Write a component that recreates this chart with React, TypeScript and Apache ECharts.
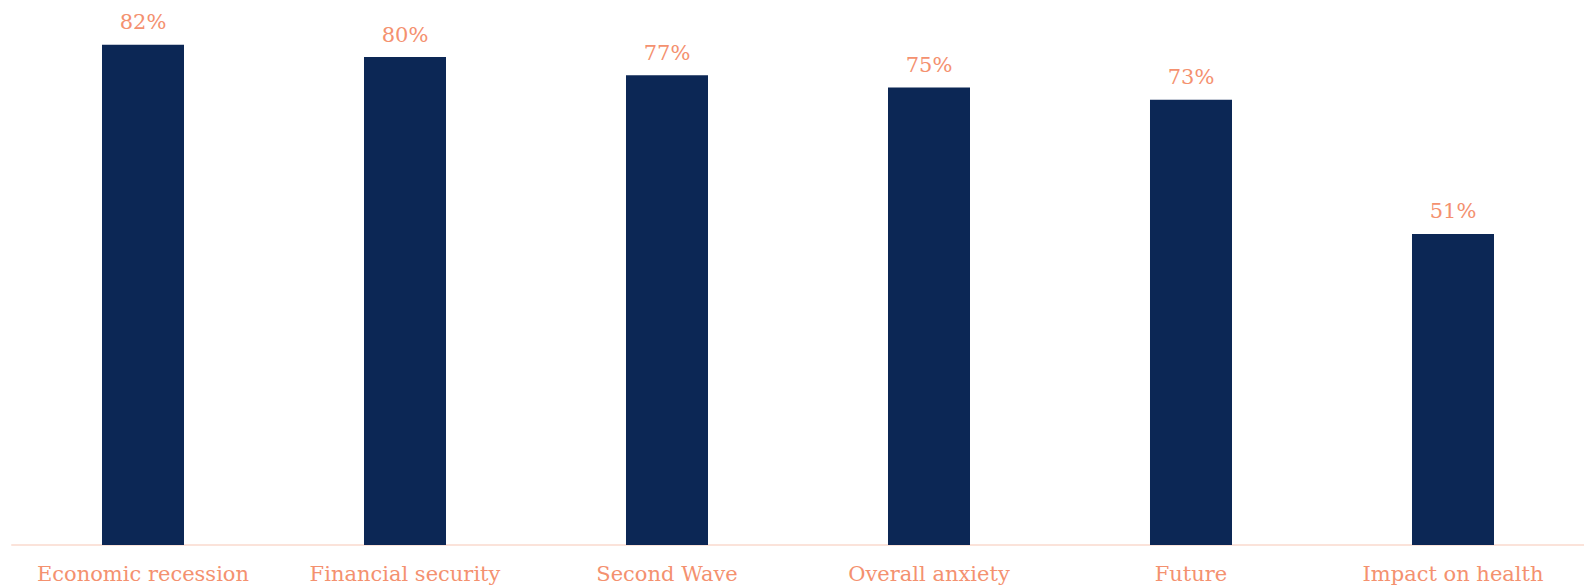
import React, { useEffect, useRef } from "react";
import * as echarts from "echarts";

const categories = ["Economic recession", "Financial security", "Second Wave", "Overall anxiety", "Future", "Impact on health"];
const values = [82, 80, 77, 75, 73, 51];

export default function App() {
  const ref = useRef<HTMLDivElement>(null);
  useEffect(() => {
    const chart = echarts.init(ref.current!, null, { renderer: "svg" });
    const font = "Georgia, 'DejaVu Serif', serif";
    chart.setOption({
      animation: false,
      grid: { left: 12, right: 0, top: 26.5, bottom: 42 },
      xAxis: {
        type: "category",
        data: categories,
        axisLine: { show: true, lineStyle: { color: "#fbe3da", width: 2 } },
        axisTick: { show: false },
        axisLabel: { color: "#f4916f", fontFamily: font, fontSize: 21, margin: 18, interval: 0 },
      },
      yAxis: {
        type: "value",
        min: 0,
        max: 85,
        show: false,
        splitLine: { show: false },
      },
      series: [
        {
          type: "bar",
          data: values,
          barWidth: "31.3%",
          itemStyle: { color: "#0c2755" },
          label: {
            show: true,
            position: "top",
            distance: 12,
            formatter: "{c}%",
            color: "#f4916f",
            fontFamily: font,
            fontSize: 21,
          },
        },
      ],
    });
    return () => chart.dispose();
  }, []);
  return <div ref={ref} style={{ width: 1584, height: 587, position: "absolute", left: 0, top: 0 }} />;
}
